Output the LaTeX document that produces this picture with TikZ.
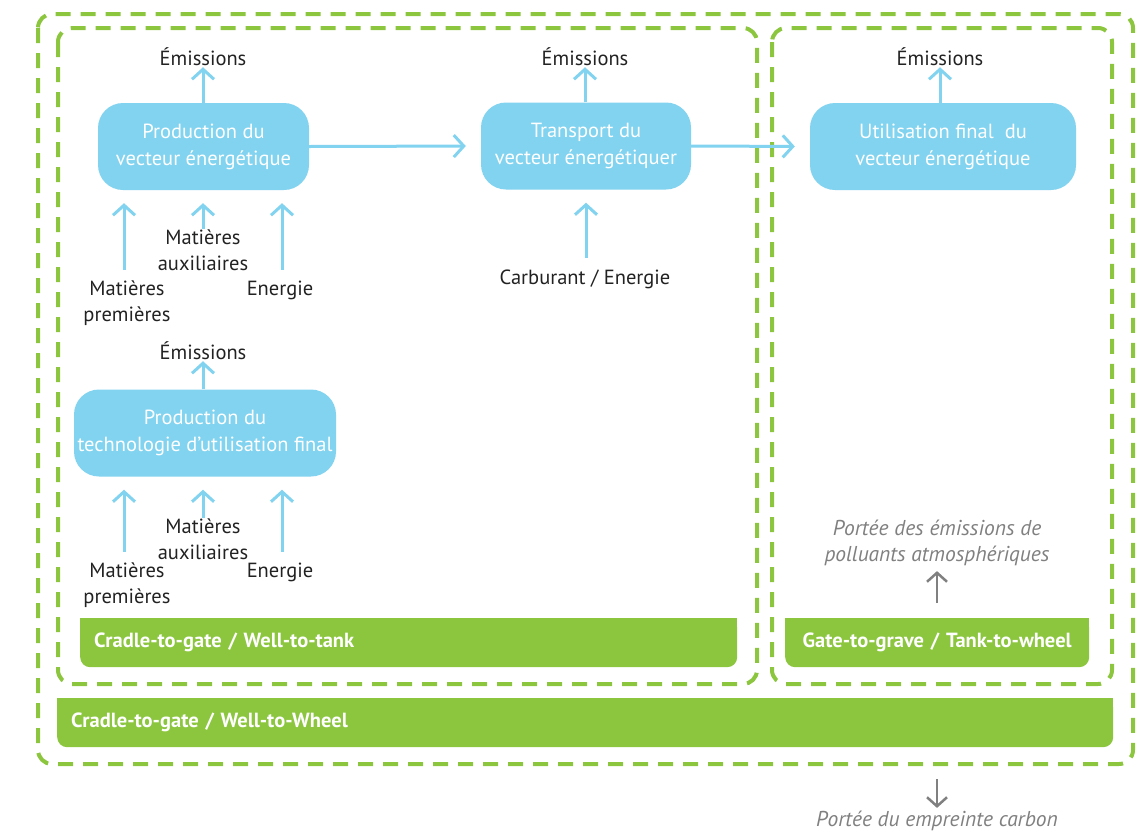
\documentclass[tikz,border=0pt]{standalone}
\usepackage{fontspec}
\setmainfont{PT Sans}
\usetikzlibrary{positioning,arrows.meta}

\definecolor{skyblue}{HTML}{81D3EF}
\definecolor{leafgreen}{HTML}{8CC63F}
\definecolor{inkgray}{HTML}{222222}
\definecolor{notegray}{HTML}{808080}

\begin{document}
\begin{tikzpicture}[x=1pt,y=-1pt,
  process/.style={fill=skyblue, text=white, rounded corners=25pt, minimum height=87pt,
    align=center, inner sep=2pt, font=\fontsize{20.5}{27}\selectfont},
  txt/.style={text=inkgray, align=center, inner sep=1pt, font=\fontsize{20.5}{25.5}\selectfont},
  note/.style={text=notegray, align=center, inner sep=1pt, font=\fontsize{21.5}{26}\selectfont\itshape},
  flow/.style={draw=skyblue, line width=3pt, -{Straight Barb[length=10pt,width=22pt]}},
  noteflow/.style={draw=notegray, line width=2.5pt, -{Straight Barb[length=9pt,width=20pt]}},
  zone/.style={draw=leafgreen, line width=4pt, dash pattern=on 15pt off 10pt, rounded corners=14pt},
  phase/.style={fill=leafgreen, text=white, rounded corners=10pt, minimum height=49pt,
    anchor=north west, align=left, inner xsep=14pt, font=\fontsize{20.5}{22}\selectfont\bfseries}
]
\useasboundingbox (0,0) rectangle (1141,836);

% Dashed boundaries
\draw[zone] (38,14) rectangle (1133,764);
\draw[zone] (58,28) rectangle (757,684);
\draw[zone] (772,28) rectangle (1112,684);

% Phase bars (square top, rounded bottom)
\fill[leafgreen] (80,618) rectangle (737,640);
\node[phase, minimum width=657pt, text width=629pt] (wtt) at (80,618) {Cradle-to-gate / Well-to-tank};
\fill[leafgreen] (785,618) rectangle (1089,640);
\node[phase, minimum width=304pt, text width=276pt, align=center] (ttw) at (785,618) {Gate-to-grave / Tank-to-wheel};
\fill[leafgreen] (57,698) rectangle (1113,720);
\node[phase, minimum width=1056pt, text width=1028pt, inner xsep=12pt] (wtw) at (57,698) {Cradle-to-gate / Well-to-Wheel};

% Process boxes
\node[process, minimum width=211pt] (prodvec) at (203.5,146.5) {Production du\\vecteur énergétique};
\node[process, minimum width=210pt] (transvec) at (586,146) {Transport du\\vecteur énergétiquer};
\node[process, minimum width=266pt] (utilvec) at (943,146.5) {Utilisation final\ \ du\\vecteur énergétique};
\node[process, minimum width=262pt] (prodtech) at (205,433) {Production du\\technologie d’utilisation final};

% Emissions
\node[txt] (em1) at (203,57) {Émissions};
\node[txt] (em2) at (585,57) {Émissions};
\node[txt] (em3) at (940,57) {Émissions};
\node[txt] (em4) at (203,351) {Émissions};
\draw[flow] (prodvec.north -| em1) -- (em1.south);
\draw[flow] (transvec.north -| em2) -- (em2.south);
\draw[flow] (utilvec.north -| em3) -- (em3.south);
\draw[flow] (prodtech.north -| em4) -- (em4.south);

% Chain
\draw[flow, shorten >=15pt] (prodvec.east) -- (transvec.west);
\draw[flow, shorten >=15pt] (transvec.east) -- (utilvec.west);

% Inputs vecteur
\node[txt] (mp1) at (127,303) {Matières\\premières};
\node[txt] (ma1) at (203,250) {Matières\\auxiliaires};
\node[txt] (en1) at (280,290) {Energie};
\coordinate (mp1top) at (124,270);
\coordinate (en1top) at (282,270);
\draw[flow, shorten >=13pt] (mp1top) -- (mp1top |- prodvec.south);
\draw[flow, shorten >=13pt] (ma1.north) -- (ma1.north |- prodvec.south);
\draw[flow, shorten >=13pt] (en1top) -- (en1top |- prodvec.south);

% Inputs transport
\node[txt] (carb) at (585,279) {Carburant / Energie};
\coordinate (carbtop) at (586,258);
\draw[flow, shorten >=13pt] (carbtop) -- (carbtop |- transvec.south);

% Inputs technologie
\node[txt] (mp2) at (127,585) {Matières\\premières};
\node[txt] (ma2) at (203,539) {Matières\\auxiliaires};
\node[txt] (en2) at (280,572) {Energie};
\coordinate (mp2top) at (124,552);
\coordinate (en2top) at (282,552);
\draw[flow, shorten >=13pt] (mp2top) -- (mp2top |- prodtech.south);
\draw[flow, shorten >=13pt] (ma2.north) -- (ma2.north |- prodtech.south);
\draw[flow, shorten >=13pt] (en2top) -- (en2top |- prodtech.south);

% Scope notes
\node[note] (pollnote) at (937,543) {Portée des émissions de\\polluants atmosphériques};
\coordinate (pollfoot) at (937,603);
\draw[noteflow, shorten >=4pt] (pollfoot) -- (pollnote.south);
\node[note] (carbnote) at (937,821) {Portée du empreinte carbon};
\coordinate (carbhead) at (937,779);
\draw[noteflow, shorten >=2pt] (carbhead) -- (carbnote.north);

\end{tikzpicture}
\end{document}
